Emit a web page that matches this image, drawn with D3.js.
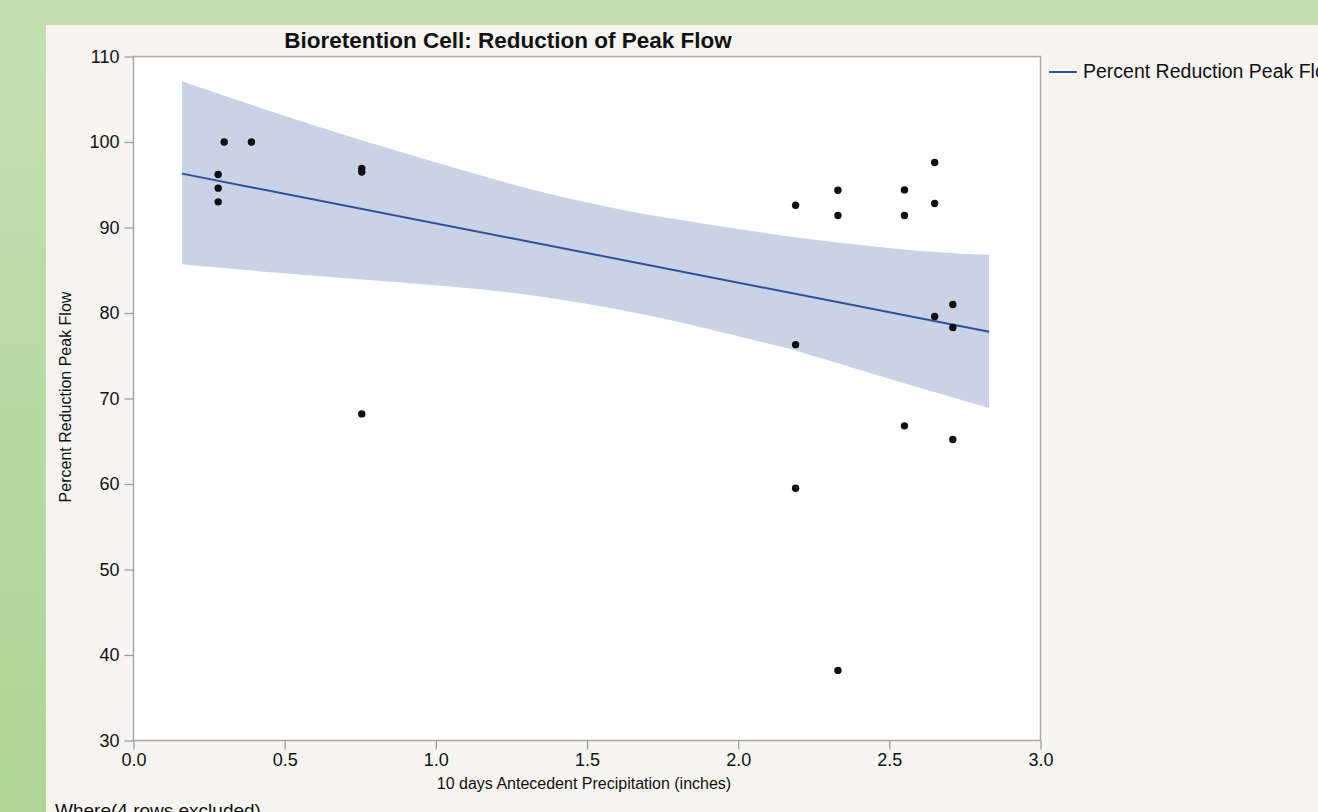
<!DOCTYPE html>
<html>
<head>
<meta charset="utf-8">
<script src="https://cdn.jsdelivr.net/npm/d3@7/dist/d3.min.js"></script>
<style>
  html, body { margin: 0; padding: 0; overflow: hidden; }
  body { width: 1318px; height: 812px; }
  text { font-family: "Liberation Sans", Arial, Helvetica, sans-serif; fill: #111; }
</style>
</head>
<body>
<div id="chart"></div>
<script>
'use strict';

// observations: antecedent precipitation (in) vs percent reduction of peak flow
const precip = [0.28, 0.28, 0.28, 0.30, 0.39, 0.755, 0.755, 0.755,
  2.19, 2.19, 2.19, 2.33, 2.33, 2.33, 2.55, 2.55, 2.55,
  2.65, 2.65, 2.65, 2.71, 2.71, 2.71];
const reduction = [96.2, 94.6, 93.0, 100, 100, 96.9, 96.5, 68.2,
  92.6, 76.3, 59.5, 94.35, 91.4, 38.2, 94.4, 91.4, 66.8,
  97.6, 92.8, 79.6, 81.0, 78.3, 65.2];

// fitted line and confidence band
const fitX = [0.16, 2.83];
const fitY = [96.3, 77.8];
const bandX = [0.16, 0.62, 1.11, 1.44, 1.77, 2.1, 2.2, 2.53, 2.83];
const bandUpper = [107.1, 101.7, 96.5, 93.4, 91.1, 89.3, 88.8, 87.5, 86.8];
const bandLower = [85.7, 84.3, 82.9, 81.4, 79.2, 76.4, 75.5, 72.0, 68.9];

const xTicks = [0, 0.5, 1.0, 1.5, 2.0, 2.5, 3.0];
const yTicks = [30, 40, 50, 60, 70, 80, 90, 100, 110];

const W = 1318, H = 812;
const svg = d3.select('#chart').append('svg')
    .attr('width', W)
    .attr('height', H);

// green page background + light panel
const grad = svg.append('defs').append('linearGradient')
    .attr('id', 'bg')
    .attr('x1', 0).attr('y1', 0).attr('x2', 0).attr('y2', 1);
grad.append('stop').attr('offset', '0%').attr('stop-color', '#c4dfb1');
grad.append('stop').attr('offset', '100%').attr('stop-color', '#b0d597');

svg.append('rect')
    .attr('width', W).attr('height', H)
    .attr('fill', 'url(#bg)');
svg.append('rect')
    .attr('x', 46).attr('y', 25)
    .attr('width', W - 46).attr('height', H - 25)
    .attr('fill', '#f6f5f1');

const plot = { left: 133.5, right: 1040.5, top: 56.5, bottom: 740.5 };

const x = d3.scaleLinear().domain([0, 3]).range([plot.left, plot.right]);
const y = d3.scaleLinear().domain([30, 110]).range([plot.bottom, plot.top]);

svg.append('rect')
    .attr('x', plot.left).attr('y', plot.top)
    .attr('width', plot.right - plot.left)
    .attr('height', plot.bottom - plot.top)
    .attr('fill', '#fff');

// confidence band
const band = bandX.map((v, i) => ({ x: v, lo: bandLower[i], hi: bandUpper[i] }));
svg.append('path')
    .datum(band)
    .attr('fill', '#c9d3e5')
    .attr('d', d3.area()
      .curve(d3.curveNatural)
      .x(d => x(d.x))
      .y0(d => y(d.lo))
      .y1(d => y(d.hi)));

// fit line
svg.append('path')
    .datum(fitX.map((v, i) => [v, fitY[i]]))
    .attr('fill', 'none')
    .attr('stroke', '#2f4f9b')
    .attr('stroke-width', 2)
    .attr('d', d3.line().x(d => x(d[0])).y(d => y(d[1])));

// points
svg.append('g')
  .selectAll('circle')
  .data(precip.map((v, i) => [v, reduction[i]]))
  .join('circle')
    .attr('cx', d => x(d[0]))
    .attr('cy', d => y(d[1]))
    .attr('r', 3.7)
    .attr('fill', '#0e0e14');

// frame
svg.append('rect')
    .attr('x', plot.left).attr('y', plot.top)
    .attr('width', plot.right - plot.left)
    .attr('height', plot.bottom - plot.top)
    .attr('fill', 'none')
    .attr('stroke', '#a8a8a8')
    .attr('stroke-width', 1.5);

// axes
const yAxis = svg.append('g')
    .attr('transform', `translate(${plot.left},0)`)
    .call(d3.axisLeft(y).tickValues(yTicks).tickSize(9).tickPadding(5).tickFormat(d3.format('d')));
const xAxis = svg.append('g')
    .attr('transform', `translate(0,${plot.bottom})`)
    .call(d3.axisBottom(x).tickValues(xTicks).tickSize(9).tickPadding(4).tickFormat(d3.format('.1f')));

[xAxis, yAxis].forEach(a => {
  a.select('.domain').remove();
  a.selectAll('.tick line').attr('stroke', '#9a9a9a').attr('stroke-width', 1.2);
  a.selectAll('.tick text')
      .attr('font-size', 18)
      .attr('font-family', '"Liberation Sans", Arial, sans-serif')
      .attr('fill', '#111');
});

// titles
svg.append('text')
    .attr('x', 508).attr('y', 47.5)
    .attr('text-anchor', 'middle')
    .attr('font-size', 22.5)
    .attr('font-weight', 'bold')
    .text('Bioretention Cell: Reduction of Peak Flow');

svg.append('text')
    .attr('x', 584).attr('y', 789)
    .attr('text-anchor', 'middle')
    .attr('font-size', 16)
    .text('10 days Antecedent Precipitation (inches)');

svg.append('text')
    .attr('transform', 'translate(71,397) rotate(-90)')
    .attr('text-anchor', 'middle')
    .attr('font-size', 16)
    .text('Percent Reduction Peak Flow');

// legend (runs off the right edge, as in the source)
svg.append('line')
    .attr('x1', 1049).attr('x2', 1077)
    .attr('y1', 72).attr('y2', 72)
    .attr('stroke', '#2f4f9b')
    .attr('stroke-width', 2);
svg.append('text')
    .attr('x', 1083).attr('y', 78)
    .attr('font-size', 19.5)
    .text('Percent Reduction Peak Flow');

svg.append('text')
    .attr('x', 55).attr('y', 817)
    .attr('font-size', 19)
    .text('Where(4 rows excluded)');
</script>
</body>
</html>
